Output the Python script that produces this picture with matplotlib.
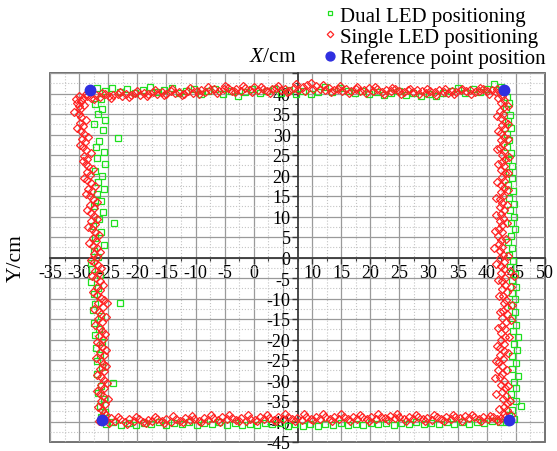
import matplotlib
matplotlib.use("Agg")
import matplotlib.pyplot as plt
from matplotlib.patches import Rectangle
from matplotlib.ticker import MultipleLocator

plt.rcParams['font.family'] = ['Liberation Serif', 'DejaVu Serif']
plt.rcParams['mathtext.fontset'] = 'custom'
plt.rcParams['mathtext.rm'] = 'Liberation Serif'
plt.rcParams['mathtext.it'] = 'Liberation Serif:italic'
plt.rcParams['axes.unicode_minus'] = False

# measured track, dual LED positioning (x, y in cm), one list per side
dual_top = [(-26.9, 41.4), (-25.6, 40.6), (-24.3, 41.3), (-23.0, 40.4), (-21.7, 41.0),
            (-20.4, 40.1), (-19.1, 40.8), (-17.8, 41.5), (-16.6, 40.3), (-15.4, 40.9),
            (-14.1, 41.4), (-12.9, 40.2), (-11.6, 40.7), (-10.3, 41.1), (-9.1, 39.9),
            (-7.8, 40.6), (-6.6, 41.2), (-5.3, 40.0), (-4.0, 40.7), (-2.8, 39.5),
            (-1.5, 40.4), (-0.3, 41.0), (1.0, 40.1), (2.2, 40.6), (3.5, 41.1),
            (4.7, 40.2), (6.0, 40.8), (7.3, 40.0), (8.5, 40.5), (9.8, 39.9),
            (11.0, 40.4), (12.3, 41.6), (13.5, 40.3), (14.8, 41.4), (16.1, 40.6),
            (17.3, 40.1), (18.6, 40.7), (19.8, 39.8), (21.1, 40.3), (22.4, 39.6),
            (23.6, 40.2), (24.9, 40.6), (26.2, 39.7), (27.4, 40.2), (28.7, 39.5),
            (30.0, 40.0), (31.2, 39.4), (32.5, 40.1), (33.8, 40.6), (35.0, 41.3),
            (36.3, 40.2), (37.6, 41.0), (38.8, 40.4), (40.1, 41.2), (41.3, 42.2),
            (42.4, 41.6)]
dual_left = [(-26.3, 38.6), (-27.2, 37.4), (-26.0, 36.1), (-26.8, 34.9), (-25.6, 33.6),
             (-27.4, 32.5), (-25.9, 31.2), (-23.3, 29.2), (-26.6, 28.4), (-27.1, 27.0),
             (-25.8, 25.8), (-26.9, 24.3), (-25.5, 22.7), (-27.3, 21.2), (-26.1, 19.9),
             (-26.7, 18.4), (-25.7, 16.8), (-27.0, 15.5), (-26.2, 13.9), (-27.4, 12.5),
             (-25.9, 11.0), (-24.0, 8.5), (-26.6, 9.3), (-27.7, 7.6), (-26.3, 6.2),
             (-27.2, 4.7), (-25.8, 3.1), (-27.5, 1.6), (-26.7, 0.2), (-28.0, -1.4),
             (-27.8, -2.8), (-26.4, -4.3), (-27.9, -5.9), (-26.8, -7.4), (-27.5, -9.0),
             (-23.0, -11.0), (-27.2, -11.4), (-27.7, -12.8), (-26.3, -14.3), (-27.4, -15.9),
             (-26.6, -17.4), (-27.3, -19.0), (-26.0, -20.6), (-27.1, -22.1), (-26.4, -23.7),
             (-27.0, -25.2), (-26.1, -26.8), (-26.9, -28.3), (-24.2, -30.6), (-26.2, -31.4),
             (-26.8, -33.0), (-25.8, -34.5), (-26.5, -36.1), (-25.6, -37.6), (-26.3, -39.0)]
dual_right = [(43.5, 39.2), (43.9, 37.7), (43.3, 36.3), (44.0, 34.8), (43.6, 33.2),
              (44.2, 31.7), (43.4, 30.1), (43.9, 28.6), (43.5, 27.0), (44.1, 25.5),
              (43.6, 23.9), (44.3, 22.4), (43.8, 20.8), (44.4, 19.3), (43.7, 17.7),
              (44.5, 16.2), (43.9, 14.6), (44.6, 13.1), (44.0, 11.5), (44.7, 10.0),
              (44.2, 8.4), (44.8, 6.9), (44.1, 5.3), (43.6, 3.8), (44.3, 2.2),
              (43.8, 0.7), (44.5, -0.9), (44.0, -2.4), (44.9, -4.0), (44.3, -5.5),
              (45.0, -7.1), (44.4, -8.6), (44.9, -10.2), (44.2, -11.7), (44.8, -13.3),
              (44.3, -14.8), (45.1, -16.4), (44.5, -17.9), (45.3, -19.5), (44.6, -21.0),
              (45.2, -22.6), (44.4, -24.1), (45.0, -25.7), (44.3, -27.2), (45.4, -28.8),
              (44.6, -30.3), (45.1, -31.9), (44.2, -33.4), (45.0, -35.0), (45.8, -36.3),
              (44.4, -37.2), (43.8, -38.4), (44.6, -39.3)]
dual_bottom = [(-25.4, -40.5), (-24.1, -40.1), (-22.8, -40.8), (-21.5, -40.3), (-20.2, -40.9),
               (-18.9, -40.4), (-17.6, -40.7), (-16.3, -40.2), (-15.0, -40.9), (-13.7, -40.4),
               (-12.4, -40.6), (-11.1, -40.1), (-9.8, -40.8), (-8.5, -40.3), (-7.2, -40.7),
               (-5.9, -40.2), (-4.6, -40.8), (-3.3, -40.4), (-2.0, -40.9), (-0.7, -40.5),
               (0.6, -40.8), (1.9, -40.3), (3.2, -40.7), (4.5, -40.4), (5.8, -41.1),
               (7.1, -40.6), (8.4, -41.2), (9.7, -40.5), (11.0, -41.0), (12.3, -40.6),
               (13.6, -40.9), (14.9, -40.4), (16.2, -40.8), (17.5, -40.5), (18.8, -40.9),
               (20.1, -40.4), (21.4, -40.7), (22.7, -40.3), (24.0, -40.8), (25.3, -40.4),
               (26.6, -40.7), (27.9, -40.2), (29.2, -40.6), (30.5, -40.3), (31.8, -40.7),
               (33.1, -40.2), (34.4, -40.6), (35.7, -40.1), (37.0, -40.5), (38.3, -40.0),
               (39.6, -40.4), (40.9, -39.9), (42.2, -40.2), (43.3, -40.0)]

# measured track, single LED positioning
single_top = [(-30.6, 38.6), (-30.0, 39.3), (-29.3, 38.9), (-28.6, 39.5), (-27.9, 39.0),
              (-27.1, 39.6), (-26.4, 39.2), (-25.6, 39.8), (-24.9, 39.3), (-24.1, 39.6),
              (-23.4, 39.9), (-22.6, 39.4), (-21.9, 40.0), (-21.1, 39.6), (-20.4, 40.2),
              (-19.6, 39.7), (-18.8, 40.1), (-18.1, 39.8), (-17.3, 40.4), (-16.6, 39.9),
              (-15.8, 40.3), (-15.1, 40.0), (-14.3, 40.6), (-13.6, 40.1), (-12.8, 40.4),
              (-12.0, 40.0), (-11.3, 40.7), (-10.5, 40.2), (-9.8, 40.5), (-9.0, 40.9),
              (-8.3, 40.3), (-7.5, 40.8), (-6.8, 41.2), (-6.0, 40.5), (-5.2, 41.0),
              (-4.5, 41.4), (-3.7, 40.7), (-3.0, 41.1), (-2.2, 40.6), (-1.5, 41.3),
              (-0.7, 40.8), (0.1, 41.5), (0.8, 40.9), (1.6, 41.2), (2.3, 40.7),
              (3.1, 41.0), (3.8, 41.4), (4.6, 40.8), (5.4, 41.1), (6.1, 40.6),
              (6.9, 41.3), (7.6, 40.9), (8.4, 41.6), (9.1, 42.0), (9.9, 42.6),
              (10.6, 41.8), (11.4, 41.2), (12.2, 40.8), (12.9, 41.4), (13.7, 40.9),
              (14.4, 41.2), (15.2, 40.7), (15.9, 41.0), (16.7, 40.6), (17.5, 41.1),
              (18.2, 40.5), (19.0, 40.9), (19.7, 41.3), (20.5, 40.7), (21.2, 41.0),
              (22.0, 40.4), (22.7, 40.8), (23.5, 40.5), (24.3, 41.0), (25.0, 40.6),
              (25.8, 40.3), (26.5, 40.8), (27.3, 40.4), (28.0, 40.9), (28.8, 40.5),
              (29.6, 40.2), (30.3, 40.7), (31.1, 40.3), (31.8, 40.8), (32.6, 40.4),
              (33.3, 40.1), (34.1, 40.6), (34.8, 40.3), (35.6, 40.8), (36.4, 40.5),
              (37.1, 40.9), (37.9, 40.4), (38.6, 40.7), (39.4, 41.0), (40.1, 40.6),
              (40.9, 40.9), (41.6, 40.4), (42.3, 40.3),
              (-29.6, 38.2), (-28.9, 39.8), (-27.5, 38.6), (-26.0, 40.1), (-24.6, 38.9),
              (-23.0, 40.4), (-21.5, 39.2), (-20.0, 40.6), (-18.4, 39.4), (-17.0, 40.8),
              (-15.5, 39.6), (-14.0, 41.0), (-12.4, 39.7), (-10.9, 41.3), (-9.4, 40.0),
              (-7.9, 41.6), (-6.4, 40.2), (-4.9, 41.8), (-3.3, 40.3), (-1.8, 41.9),
              (-0.3, 40.4), (1.2, 41.7), (2.7, 40.2), (4.2, 41.9), (5.7, 40.4),
              (7.2, 42.2), (8.8, 40.6), (10.2, 41.2), (11.8, 42.1), (13.3, 40.3),
              (14.8, 41.8), (16.3, 40.1), (17.8, 41.6), (19.3, 40.2), (20.8, 41.5),
              (22.3, 39.9), (23.8, 41.3), (25.3, 39.9), (26.8, 41.2), (28.3, 39.8),
              (29.8, 41.1), (31.3, 39.7), (32.8, 41.0), (34.3, 39.8), (35.8, 41.2),
              (37.3, 39.9), (38.8, 41.3), (40.3, 40.0), (41.8, 41.1)]
single_left = [(-30.4, 37.8), (-30.1, 36.9), (-29.8, 36.2), (-30.0, 35.1), (-29.6, 34.3),
               (-29.9, 32.8), (-29.4, 32.1), (-29.7, 30.9), (-29.2, 30.2), (-29.5, 28.8),
               (-29.0, 28.1), (-29.3, 26.9), (-28.8, 26.2), (-29.1, 24.8), (-28.6, 24.1),
               (-28.9, 22.9), (-28.4, 22.2), (-28.7, 20.8), (-28.2, 20.1), (-28.6, 18.9),
               (-28.0, 18.2), (-28.4, 16.8), (-27.8, 16.1), (-28.2, 14.9), (-27.7, 14.2),
               (-28.1, 12.8), (-27.5, 12.1), (-27.9, 10.9), (-27.4, 10.2), (-28.0, 8.8),
               (-27.3, 8.1), (-27.8, 6.9), (-27.2, 6.2), (-27.7, 4.8), (-27.1, 4.1),
               (-27.6, 2.9), (-27.0, 2.2), (-27.5, 0.8), (-26.9, 0.1), (-27.4, -1.1),
               (-26.8, -1.8), (-27.2, -3.2), (-26.6, -3.9), (-27.1, -5.1), (-26.5, -5.8),
               (-27.0, -7.2), (-26.4, -7.9), (-26.9, -9.1), (-26.3, -9.8), (-25.2, -11.0),
               (-26.8, -11.2), (-25.9, -12.1), (-26.6, -13.2), (-26.2, -13.9), (-26.7, -15.1),
               (-26.0, -15.8), (-26.5, -17.2), (-26.1, -17.9), (-26.6, -19.1), (-25.9, -19.8),
               (-26.4, -21.2), (-26.0, -21.9), (-26.5, -23.1), (-25.8, -23.8), (-26.3, -25.2),
               (-25.9, -25.9), (-26.4, -27.1), (-25.7, -27.8), (-26.2, -29.2), (-25.8, -29.9),
               (-26.3, -31.1), (-25.7, -31.8), (-26.5, -33.2), (-25.9, -33.9), (-26.2, -35.1),
               (-25.6, -35.8), (-26.1, -37.2), (-25.8, -37.9), (-26.0, -38.8),
               (-29.2, 37.1), (-30.8, 35.6), (-28.8, 33.5), (-30.3, 31.6), (-28.5, 29.4),
               (-29.9, 27.5), (-28.0, 25.4), (-29.4, 23.6), (-27.7, 21.5), (-29.1, 19.5),
               (-27.3, 17.4), (-28.8, 15.6), (-27.0, 13.5), (-28.6, 11.6), (-26.9, 9.5),
               (-28.4, 7.4), (-26.6, 5.5), (-28.3, 3.5), (-26.4, 1.4), (-28.0, -0.5),
               (-26.2, -2.6), (-27.8, -4.5), (-25.9, -6.6), (-27.6, -8.5), (-25.7, -10.4),
               (-27.4, -12.6), (-25.4, -14.5), (-27.2, -16.5), (-25.5, -18.6), (-27.0, -20.5),
               (-25.4, -22.6), (-27.1, -24.4), (-25.3, -26.5), (-26.9, -28.6), (-25.2, -30.5),
               (-27.0, -32.6), (-25.1, -34.5), (-26.8, -36.5), (-25.3, -38.3), (-26.6, -39.8)]
single_right = [(42.6, 39.4), (43.0, 38.5), (42.4, 37.6), (42.9, 36.7), (42.3, 35.8),
                (42.8, 34.9), (42.5, 34.0), (43.1, 33.1), (42.6, 32.2), (42.9, 31.3),
                (42.4, 30.4), (43.0, 29.5), (42.5, 28.6), (42.8, 27.7), (42.3, 26.8),
                (42.9, 25.9), (42.6, 25.0), (43.2, 24.1), (42.7, 23.2), (43.0, 22.3),
                (42.5, 21.4), (43.1, 20.5), (42.6, 19.6), (42.9, 18.7), (42.4, 17.8),
                (43.0, 16.9), (42.5, 16.0), (42.8, 15.1), (42.2, 14.2), (42.7, 13.3),
                (42.3, 12.4), (42.9, 11.5), (42.4, 10.6), (42.8, 9.7), (42.2, 8.8),
                (42.7, 7.9), (42.1, 7.0), (42.6, 6.1), (42.0, 5.2), (42.5, 4.3),
                (42.1, 3.4), (42.7, 2.5), (42.2, 1.6), (42.8, 0.7), (42.3, -0.2),
                (42.9, -1.1), (42.4, -2.0), (43.0, -2.9), (44.6, -4.6), (42.5, -3.8),
                (43.1, -4.9), (42.6, -5.8), (43.2, -6.7), (42.7, -7.6), (43.4, -8.5),
                (42.8, -9.4), (43.3, -10.3), (42.9, -11.2), (43.5, -12.1), (42.8, -13.0),
                (43.4, -13.9), (42.7, -14.8), (43.3, -15.7), (42.6, -16.6), (43.2, -17.5),
                (42.5, -18.4), (43.1, -19.3), (42.4, -20.2), (43.0, -21.1), (42.3, -22.0),
                (42.9, -22.9), (42.2, -23.8), (42.8, -24.7), (42.1, -25.6), (42.7, -26.5),
                (42.0, -27.4), (42.6, -28.3), (42.2, -29.2), (42.9, -30.1), (42.4, -31.0),
                (43.1, -31.9), (42.6, -32.8), (43.3, -33.7), (42.8, -34.6), (43.5, -35.5),
                (42.9, -36.4), (43.4, -37.3), (43.0, -38.2), (43.2, -39.0),
                (41.9, 38.9), (43.6, 36.9), (41.8, 34.6), (43.7, 32.6), (41.9, 30.9),
                (43.6, 28.8), (41.7, 26.5), (43.8, 24.6), (42.0, 22.8), (43.7, 20.6),
                (41.8, 18.5), (43.6, 16.4), (41.6, 14.6), (43.5, 12.7), (41.5, 10.4),
                (43.4, 8.3), (41.4, 6.5), (43.3, 4.6), (41.3, 2.4), (43.6, 0.3),
                (41.6, -1.5), (44.0, -3.2), (41.9, -5.4), (44.2, -7.3), (42.1, -9.3),
                (44.4, -11.5), (42.2, -13.4), (44.1, -15.3), (41.9, -17.2), (43.8, -19.4),
                (41.7, -21.5), (43.6, -23.4), (41.5, -25.3), (43.4, -27.5), (41.4, -29.5),
                (43.7, -31.4), (41.6, -33.3), (44.0, -35.0), (42.1, -36.9), (44.2, -38.5)]
single_bottom = [(-25.4, -39.6), (-24.6, -39.1), (-23.8, -39.8), (-23.0, -39.3), (-22.2, -40.0),
                 (-21.4, -39.4), (-20.6, -39.9), (-19.8, -39.5), (-19.0, -40.1), (-18.2, -39.6),
                 (-17.4, -39.9), (-16.6, -39.3), (-15.8, -39.8), (-15.0, -39.4), (-14.2, -40.0),
                 (-13.4, -39.5), (-12.6, -39.9), (-11.8, -39.2), (-11.0, -39.7), (-10.2, -39.3),
                 (-9.4, -39.8), (-8.6, -39.1), (-7.8, -39.6), (-7.0, -39.2), (-6.2, -39.7),
                 (-5.4, -39.0), (-4.6, -39.5), (-3.8, -39.1), (-3.0, -39.7), (-2.2, -39.2),
                 (-1.4, -39.8), (-0.6, -39.3), (0.2, -39.7), (1.0, -39.0), (1.8, -39.5),
                 (2.6, -39.1), (3.4, -39.6), (4.2, -39.0), (5.0, -39.4), (5.8, -38.9),
                 (6.6, -39.5), (7.4, -39.1), (8.2, -39.6), (9.0, -38.9), (9.8, -39.4),
                 (10.6, -38.8), (11.4, -39.3), (12.2, -38.9), (13.0, -39.5), (13.8, -39.0),
                 (14.6, -39.4), (15.4, -38.8), (16.2, -39.3), (17.0, -38.9), (17.8, -39.4),
                 (18.6, -39.0), (19.4, -39.5), (20.2, -38.9), (21.0, -39.3), (21.8, -38.8),
                 (22.6, -39.2), (23.4, -38.6), (24.2, -39.1), (25.0, -38.8), (25.8, -39.3),
                 (26.6, -38.9), (27.4, -39.4), (28.2, -39.0), (29.0, -39.5), (29.8, -39.1),
                 (30.6, -39.6), (31.4, -39.0), (32.2, -39.4), (33.0, -38.9), (33.8, -39.3),
                 (34.6, -38.8), (35.4, -39.2), (36.2, -38.7), (37.0, -39.1), (37.8, -38.8),
                 (38.6, -39.3), (39.4, -38.9), (40.2, -39.4), (41.0, -39.0), (41.8, -39.5),
                 (42.5, -39.2),
                 (-24.9, -40.3), (-23.4, -38.8), (-21.8, -40.5), (-20.2, -38.9), (-18.6, -40.4),
                 (-17.0, -38.8), (-15.4, -40.3), (-13.8, -38.7), (-12.2, -40.2), (-10.6, -38.6),
                 (-9.0, -40.1), (-7.4, -38.5), (-5.8, -40.0), (-4.2, -38.4), (-2.6, -39.9),
                 (-1.0, -38.4), (0.6, -39.9), (2.2, -38.3), (3.8, -39.8), (5.4, -38.2),
                 (7.0, -39.8), (8.6, -38.2), (10.2, -39.7), (11.8, -38.1), (13.4, -39.8),
                 (15.0, -38.2), (16.6, -39.8), (18.2, -38.3), (19.8, -39.9), (21.4, -38.1),
                 (23.0, -39.7), (24.6, -38.2), (26.2, -39.8), (27.8, -38.4), (29.4, -39.9),
                 (31.0, -38.5), (32.6, -39.9), (34.2, -38.3), (35.8, -39.8), (37.4, -38.3),
                 (39.0, -39.8), (40.6, -38.6), (42.0, -39.9)]

# reference corners
ref_points = [(-28.1, 40.9), (43.0, 40.9), (-26.1, -39.7), (43.9, -39.7)]

x_ticks = list(range(-35, 55, 5))
y_ticks = list(range(-45, 50, 5))
x_ticklabels = ['' if v == 5 else str(v) for v in x_ticks]
y_ticklabels = ['' if v == 45 else str(v) for v in y_ticks]

dual = dual_top + dual_right + dual_bottom + dual_left
single = single_top + single_right + single_bottom + single_left

fig = plt.figure(figsize=(5.57, 4.52), dpi=100)
ax = fig.add_axes([50 / 557, 1 - 443 / 452, 495 / 557, 369 / 452])

ax.set_xlim(-35, 50)
ax.set_ylim(-45, 45)
ax.set_xticks(x_ticks, x_ticklabels)
ax.set_yticks(y_ticks, y_ticklabels)
ax.xaxis.set_minor_locator(MultipleLocator(2.5))
ax.yaxis.set_minor_locator(MultipleLocator(2.5))

ax.set_axisbelow(True)
ax.grid(which='major', color='#9a9a9a', linewidth=0.9, linestyle='-')
ax.grid(which='minor', color='#c4c4c4', linewidth=0.8, linestyle=':')

# axes cross inside the plot, outer frame drawn separately
ax.spines['left'].set_position(('data', 7.5))
ax.spines['bottom'].set_position(('data', 0))
ax.spines['top'].set_visible(False)
ax.spines['right'].set_visible(False)
for s in ('left', 'bottom'):
    ax.spines[s].set_color('#3a3a3a')
    ax.spines[s].set_linewidth(1.3)
ax.add_patch(Rectangle((0, 0), 1, 1, transform=ax.transAxes, fill=False,
                       edgecolor='#666666', linewidth=1.3, zorder=0.5, clip_on=False))

ax.tick_params(which='major', direction='out', length=4, width=1, colors='#3a3a3a',
               labelsize=13, labelcolor='black', pad=1)
ax.tick_params(which='minor', direction='out', length=2, width=0.8, colors='#3a3a3a')

ax.plot([p[0] for p in dual], [p[1] for p in dual], 's', ms=4.2, mfc='none',
        mec='#1ee01e', mew=0.9, label='Dual LED positioning', zorder=3)
ax.plot([p[0] for p in single], [p[1] for p in single], 'D', ms=3.9, mfc='none',
        mec='#ff2424', mew=0.9, label='Single LED positioning', zorder=4)
ax.plot([p[0] for p in ref_points], [p[1] for p in ref_points], 'o', ms=7.5,
        color='#2f2fe0', label='Reference point position', zorder=5, clip_on=False)

fig.text(273 / 557, 1 - 57 / 452, '$X$/cm', fontsize=15.5, ha='center', va='center')
fig.text(16 / 557, 1 - 258 / 452, 'Y/cm', fontsize=15.5, ha='center', va='center',
         rotation=90)

fig.legend(loc='upper left', bbox_to_anchor=(326 / 557, 1 - 7 / 452), frameon=False,
           fontsize=15, handlelength=0.4, handletextpad=0.25, labelspacing=0.07,
           borderaxespad=0, borderpad=0, markerscale=0.85)

fig.savefig('out.png', dpi=100)
